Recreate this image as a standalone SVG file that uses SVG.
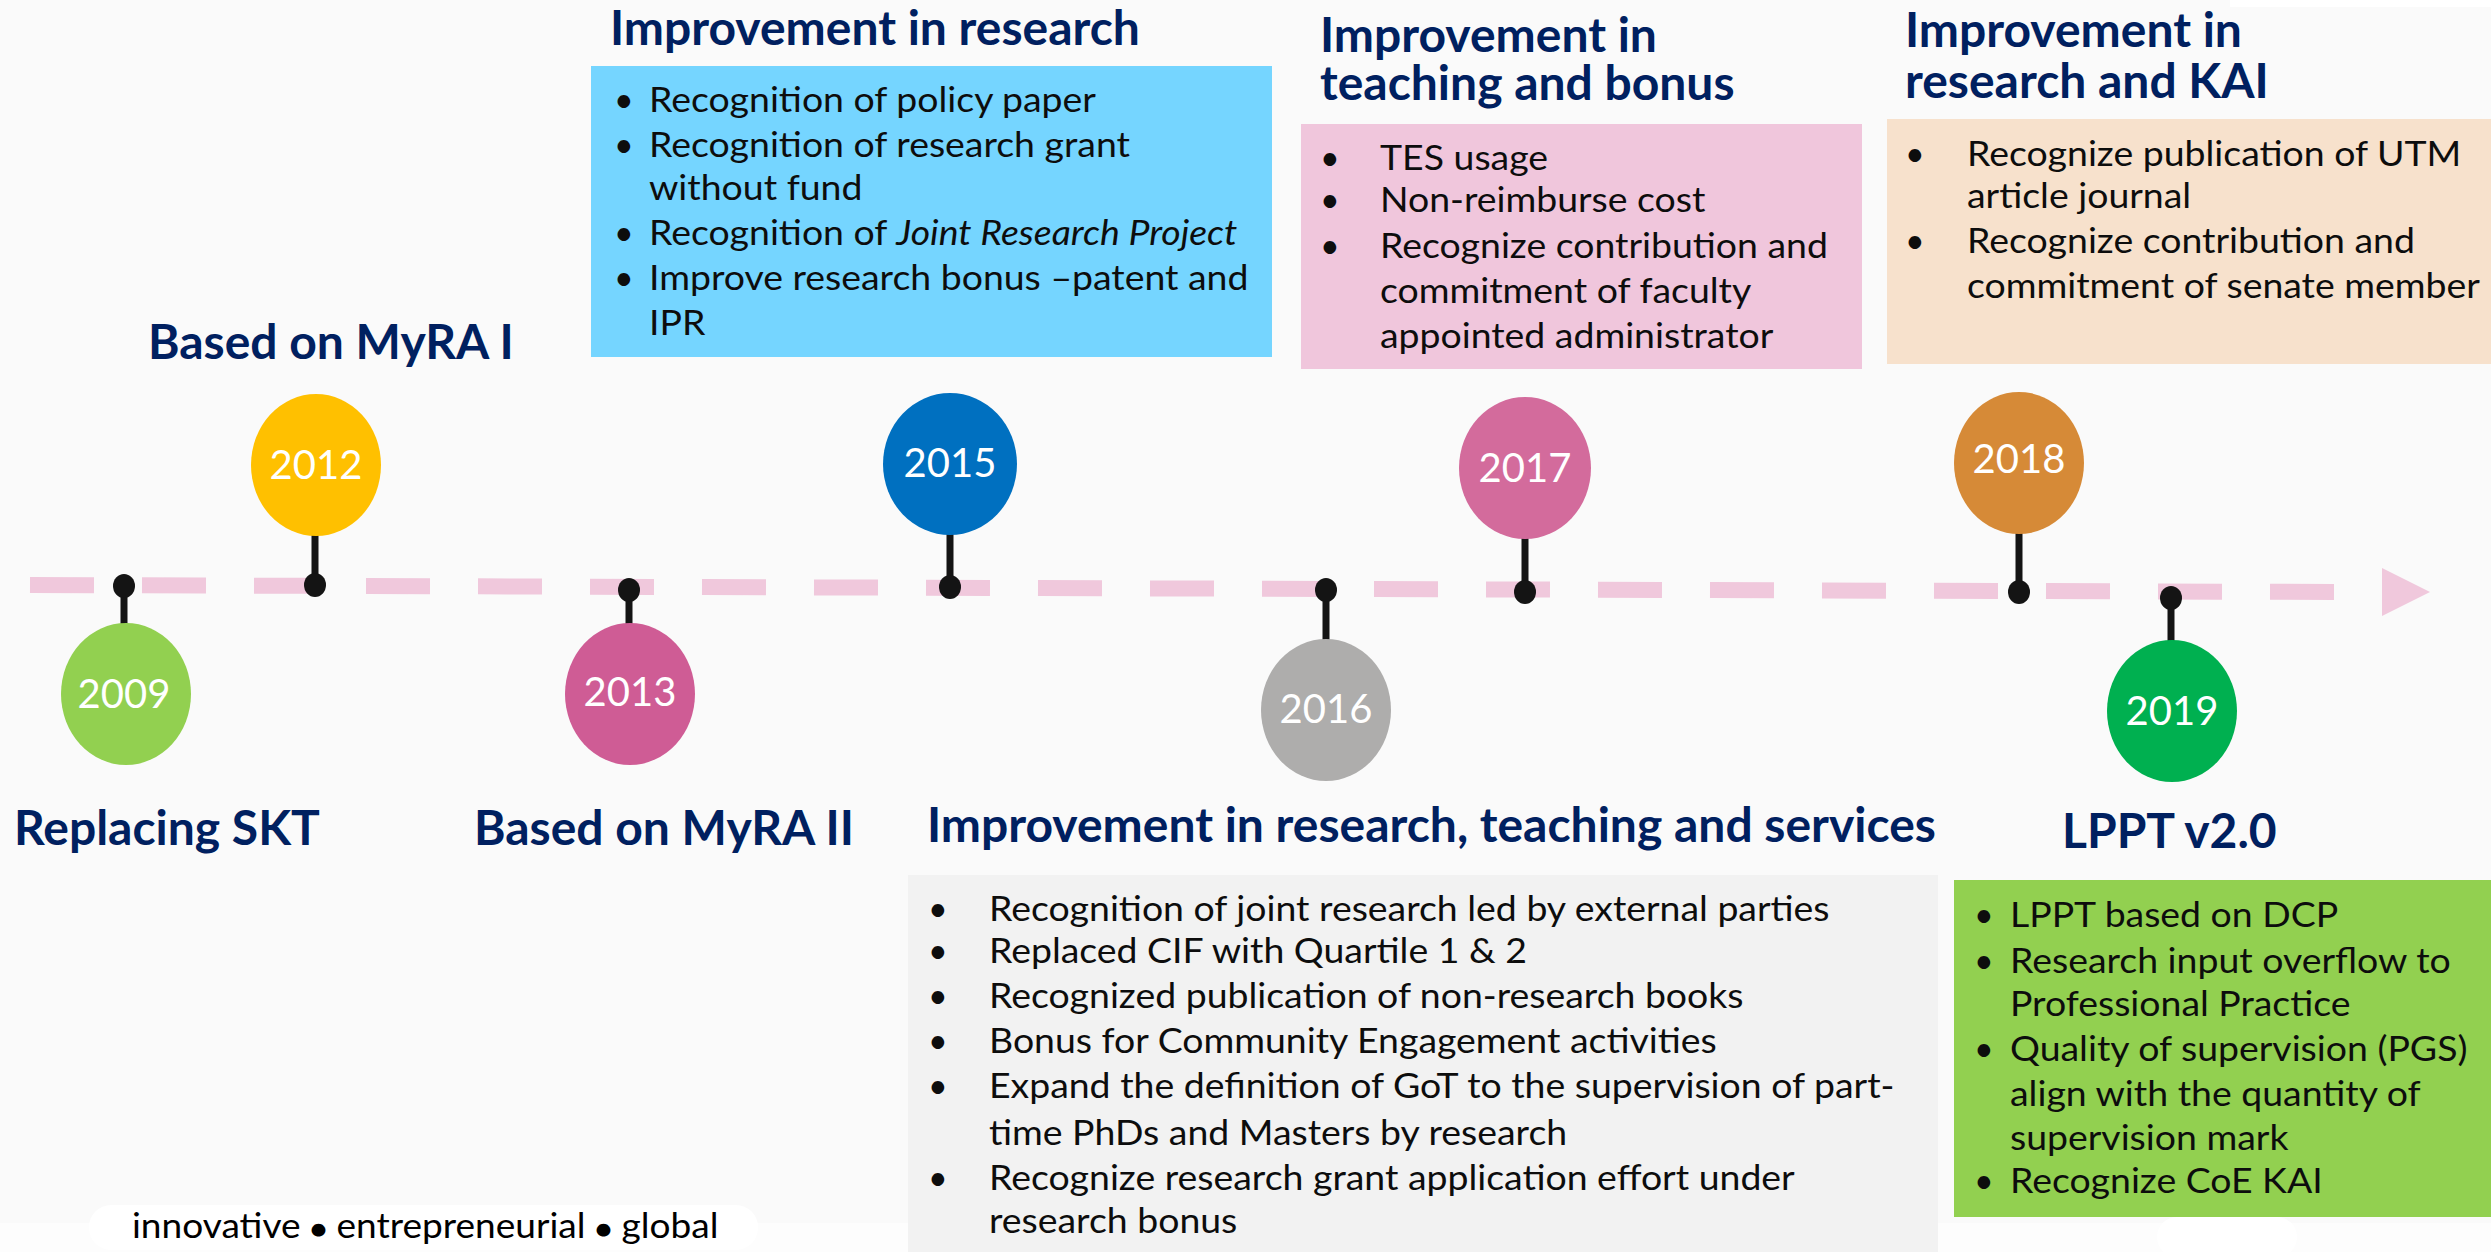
<svg xmlns="http://www.w3.org/2000/svg" width="2491" height="1252" viewBox="0 0 2491 1252">
<style>
.bg{fill:#fafafa}
.title{font-family:Lato,"Open Sans",sans-serif;font-weight:700;font-size:48px;fill:#002060}
.body{font-family:Lato,"Open Sans",sans-serif;font-size:34px;fill:#0d0d0d}
.year{font-family:Lato,"Open Sans",sans-serif;font-size:40px;fill:#ffffff;text-anchor:middle}
.stem{stroke:#141414;stroke-width:7}
.dot{fill:#141414}
.tag{font-family:Lato,"Open Sans",sans-serif;font-size:34px;fill:#000}
</style>
<rect class="bg" x="0" y="0" width="2491" height="1252"/>
<rect x="0" y="1223" width="2491" height="29" fill="#fdfdfd"/>
<rect x="2230" y="0" width="261" height="7" fill="#ffffff"/>

<g id="connectors">
  <line x1="30" y1="585" x2="2336" y2="592" stroke="#f0c8dc" stroke-width="16" stroke-dasharray="64 48"/>
  <polygon points="2382,568 2430,592 2382,616" fill="#f0c8dc"/>
  <line class="stem" x1="124" y1="586" x2="124" y2="626"/>
  <line class="stem" x1="315" y1="585" x2="315" y2="533"/>
  <line class="stem" x1="629" y1="590" x2="629" y2="626"/>
  <line class="stem" x1="950" y1="587" x2="950" y2="532"/>
  <line class="stem" x1="1326" y1="590" x2="1326" y2="643"/>
  <line class="stem" x1="1525" y1="592" x2="1525" y2="536"/>
  <line class="stem" x1="2019" y1="592" x2="2019" y2="531"/>
  <line class="stem" x1="2171" y1="598" x2="2171" y2="643"/>
  <ellipse class="dot" cx="124" cy="586" rx="11" ry="12"/>
  <ellipse class="dot" cx="315" cy="585" rx="11" ry="12"/>
  <ellipse class="dot" cx="629" cy="590" rx="11" ry="12"/>
  <ellipse class="dot" cx="950" cy="587" rx="11" ry="12"/>
  <ellipse class="dot" cx="1326" cy="590" rx="11" ry="12"/>
  <ellipse class="dot" cx="1525" cy="592" rx="11" ry="12"/>
  <ellipse class="dot" cx="2019" cy="592" rx="11" ry="12"/>
  <ellipse class="dot" cx="2171" cy="598" rx="11" ry="12"/>
</g>

<g id="y2009">
  <ellipse cx="126" cy="694" rx="65" ry="71" fill="#92d050"/>
  <text class="year" x="124" y="708">2009</text>
  <text class="title" x="14" y="845">Replacing SKT</text>
</g>
<g id="y2012">
  <ellipse cx="316" cy="465" rx="65" ry="71" fill="#ffc000"/>
  <text class="year" x="316" y="479">2012</text>
  <text class="title" x="148" y="359">Based on MyRA I</text>
</g>
<g id="y2013">
  <ellipse cx="630" cy="694" rx="65" ry="71" fill="#cf5c95"/>
  <text class="year" x="630" y="706">2013</text>
  <text class="title" x="474" y="845">Based on MyRA II</text>
</g>
<g id="y2015">
  <ellipse cx="950" cy="464" rx="67" ry="71" fill="#0070c0"/>
  <text class="year" x="950" y="477">2015</text>
  <text class="title" x="610" y="45">Improvement in research</text>
  <rect x="591" y="66" width="681" height="291" fill="#75d5ff"/>
  <g class="body">
    <text x="614" y="112">•</text>
    <text x="614" y="157">•</text>
    <text x="614" y="245">•</text>
    <text x="614" y="290">•</text>
    <g transform="matrix(1.1 0 0 1 -64.9 0)">
      <text x="649" y="112">Recognition of policy paper</text>
      <text x="649" y="157">Recognition of research grant</text>
      <text x="649" y="200">without fund</text>
      <text x="649" y="245">Recognition of <tspan font-style="italic">Joint Research Project</tspan></text>
      <text x="649" y="290">Improve research bonus –patent and</text>
      <text x="649" y="335">IPR</text>
    </g>
  </g>
</g>
<g id="y2016">
  <ellipse cx="1326" cy="710" rx="65" ry="71" fill="#aeadac"/>
  <text class="year" x="1326" y="723">2016</text>
  <text class="title" x="927" y="842">Improvement in research, teaching and services</text>
  <rect x="908" y="875" width="1030" height="377" fill="#f2f2f2"/>
  <g class="body">
    <text x="928" y="921">•</text>
    <text x="928" y="963">•</text>
    <text x="928" y="1008">•</text>
    <text x="928" y="1053">•</text>
    <text x="928" y="1098">•</text>
    <text x="928" y="1190">•</text>
    <g transform="matrix(1.1 0 0 1 -98.9 0)">
      <text x="989" y="921">Recognition of joint research led by external parties</text>
      <text x="989" y="963">Replaced CIF with Quartile 1 &amp; 2</text>
      <text x="989" y="1008">Recognized publication of non-research books</text>
      <text x="989" y="1053">Bonus for Community Engagement activities</text>
      <text x="989" y="1098">Expand the definition of GoT to the supervision of part-</text>
      <text x="989" y="1145">time PhDs and Masters by research</text>
      <text x="989" y="1190">Recognize research grant application effort under</text>
      <text x="989" y="1233">research bonus</text>
    </g>
  </g>
</g>
<g id="y2017">
  <ellipse cx="1525" cy="468" rx="66" ry="71" fill="#d36b9c"/>
  <text class="year" x="1525" y="482">2017</text>
  <text class="title" x="1320" y="52">Improvement in</text>
  <text class="title" x="1320" y="100">teaching and bonus</text>
  <rect x="1301" y="124" width="561" height="245" fill="#f0c6dc"/>
  <g class="body">
    <text x="1320" y="170">•</text>
    <text x="1320" y="212">•</text>
    <text x="1320" y="258">•</text>
    <g transform="matrix(1.1 0 0 1 -138 0)">
      <text x="1380" y="170">TES usage</text>
      <text x="1380" y="212">Non-reimburse cost</text>
      <text x="1380" y="258">Recognize contribution and</text>
      <text x="1380" y="303">commitment of faculty</text>
      <text x="1380" y="348">appointed administrator</text>
    </g>
  </g>
</g>
<g id="y2018">
  <ellipse cx="2019" cy="463" rx="65" ry="71" fill="#d68a37"/>
  <text class="year" x="2019" y="473">2018</text>
  <text class="title" x="1905" y="47">Improvement in</text>
  <text class="title" x="1905" y="98">research and KAI</text>
  <rect x="1887" y="119" width="604" height="245" fill="#f7e1cc"/>
  <g class="body">
    <text x="1905" y="166">•</text>
    <text x="1905" y="253">•</text>
    <g transform="matrix(1.1 0 0 1 -196.7 0)">
      <text x="1967" y="166">Recognize publication of UTM</text>
      <text x="1967" y="208">article journal</text>
      <text x="1967" y="253">Recognize contribution and</text>
      <text x="1967" y="298">commitment of senate member</text>
    </g>
  </g>
</g>
<g id="y2019">
  <ellipse cx="2172" cy="711" rx="65" ry="71" fill="#00b050"/>
  <text class="year" x="2172" y="725">2019</text>
  <text class="title" x="2062" y="848">LPPT v2.0</text>
  <rect x="1954" y="880" width="537" height="337" fill="#92d050"/>
  <rect x="2157" y="1217" width="140" height="40" rx="20" fill="#ffffff"/>
  <g class="body">
    <text x="1974" y="927">•</text>
    <text x="1974" y="973">•</text>
    <text x="1974" y="1061">•</text>
    <text x="1974" y="1193">•</text>
    <g transform="matrix(1.1 0 0 1 -201 0)">
      <text x="2010" y="927">LPPT based on DCP</text>
      <text x="2010" y="973">Research input overflow to</text>
      <text x="2010" y="1016">Professional Practice</text>
      <text x="2010" y="1061">Quality of supervision (PGS)</text>
      <text x="2010" y="1106">align with the quantity of</text>
      <text x="2010" y="1150">supervision mark</text>
      <text x="2010" y="1193">Recognize CoE KAI</text>
    </g>
  </g>
</g>
<g id="tagline">
  <rect x="89" y="1205" width="669" height="45" rx="22" fill="#ffffff"/>
  <g transform="matrix(1.09 0 0 1 -11.9 0)">
    <text class="tag" x="132" y="1238">innovative <tspan font-size="26">●</tspan> entrepreneurial <tspan font-size="26">●</tspan> global</text>
  </g>
</g>
</svg>
